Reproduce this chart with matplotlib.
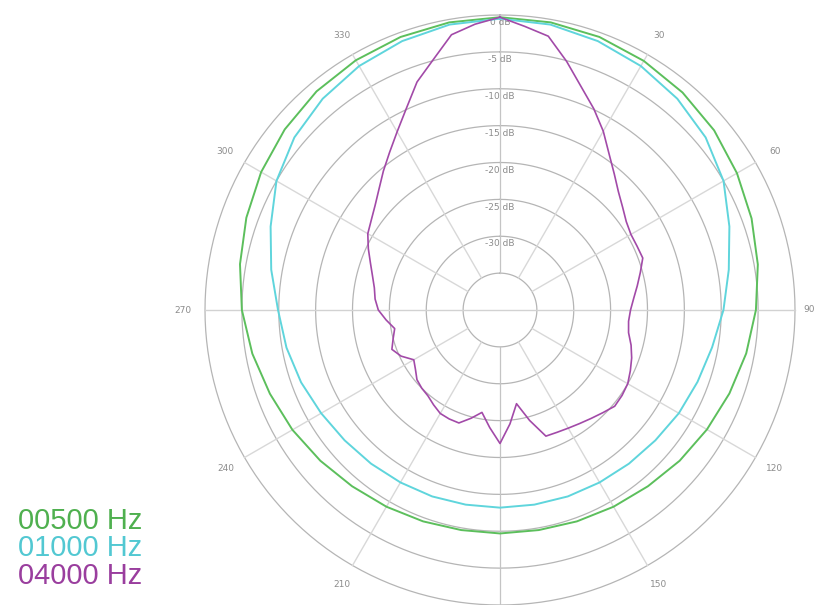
import numpy as np
import matplotlib
matplotlib.use("Agg")
import matplotlib.pyplot as plt

# measured levels in dB, 10 degree steps for 500/1000 Hz, 5 degree steps for 4000 Hz
angles_10 = list(range(0, 360, 10))
angles_5 = list(range(0, 360, 5))

db_500 = [-0.3, -0.4, -0.6, -1.0, -1.5, -2.1, -2.9, -3.7, -4.5, -5.3,
          -6.1, -6.9, -7.6, -8.2, -8.8, -9.2, -9.5, -9.7, -9.7,
          -9.7, -9.5, -9.2, -8.8, -8.2, -7.5, -6.8, -5.9, -5.0,
          -4.2, -3.4, -2.6, -1.9, -1.3, -0.9, -0.6, -0.4]

db_1000 = [-0.5, -0.7, -1.2, -1.8, -2.6, -3.6, -5.0, -6.9, -8.5, -9.7,
           -10.8, -11.5, -12.0, -12.5, -12.8, -13.0, -13.1, -13.2, -13.2,
           -13.2, -13.1, -13.0, -12.8, -12.5, -12.0, -11.3, -10.6, -9.9,
           -8.5, -6.9, -5.0, -3.6, -2.6, -1.8, -1.2, -0.7]

db_4000 = [-0.3, -1.4, -2.3, -5.1, -7.8, -9.9, -12.0, -14.2, -15.9, -17.3,
           -18.3, -19.1, -19.5, -19.5, -19.4, -20.3, -21.1, -21.8, -22.3, -22.5,
           -22.3, -21.6, -21.0, -20.5, -20.0, -19.8, -19.7, -20.3, -20.8, -21.2,
           -21.5, -21.7, -21.8, -24.5, -27.1, -24.5, -21.9, -24.0, -25.9, -24.8,
           -23.7, -23.7, -23.8, -24.3, -24.8, -25.0, -25.3, -26.0, -26.5, -25.2,
           -24.4, -25.0, -25.5, -24.5, -23.5, -23.0, -22.7, -22.1, -21.3, -20.3,
           -19.3, -18.7, -17.9, -16.8, -15.4, -13.9, -12.1, -9.9, -7.1, -4.9,
           -2.1, -1.1]

series_names = ["00500 Hz", "01000 Hz", "04000 Hz"]
series_colors = ["#5cbf5c", "#5fd5dc", "#a24aa8"]
text_colors = ["#4fb04f", "#52c8d2", "#9a3e9e"]

ring_levels = [0, -5, -10, -15, -20, -25, -30, -35]
ring_labels = ["0 dB", "-5 dB", "-10 dB", "-15 dB", "-20 dB", "-25 dB", "-30 dB"]
angle_ticks = list(range(0, 360, 30))
# 0 and 180 fall outside the picture, 90 is half cut by the right edge
shown_ticks = [30, 60, 90, 120, 150, 210, 240, 270, 300, 330]

fig = plt.figure(figsize=(8.17, 6.05), dpi=100)
ax = fig.add_axes([205 / 817, 0, 590 / 817, 590 / 605], projection="polar")
ax.set_theta_zero_location("N")
ax.set_theta_direction(-1)
ax.set_ylim(-40, 0)
ax.grid(False)
ax.set_xticks([])
ax.set_yticks([])
ax.spines["polar"].set_visible(False)
ax.patch.set_alpha(0)

full = np.linspace(0, 2 * np.pi, 361)
for lev in ring_levels:
    ax.plot(full, np.full_like(full, lev), color="#b5b5b5", lw=0.9, zorder=1, clip_on=False)

for a in angle_ticks:
    t = np.deg2rad(a)
    if a % 90 == 0:
        continue
    ax.plot([t, t], [-35, 0], color="#d8d8d8", lw=1.0, zorder=1, clip_on=False)
# main axes lines
ax.plot([np.pi / 2, np.pi / 2, 3 * np.pi / 2, 3 * np.pi / 2], [0, -40, -40, 0],
        color="#d2d2d2", lw=1.0, zorder=1, clip_on=False)
ax.plot([0, 0], [-35, 0], color="#c4c4c4", lw=0.9, zorder=1, clip_on=False)
ax.plot([np.pi, np.pi], [-35, 0], color="#c4c4c4", lw=0.9, zorder=1, clip_on=False)

for lev, lab in zip(ring_levels, ring_labels):
    ax.text(0, lev - 1.05, lab, ha="center", va="center", fontsize=6.5,
            color="#8c8c8c", zorder=2, clip_on=False)

for a in shown_ticks:
    r = 3.0 if a != 90 else 1.9
    ax.text(np.deg2rad(a), r, str(a), ha="center", va="center", fontsize=6.5,
            color="#8c8c8c", clip_on=False)

t10 = np.deg2rad(angles_10 + [360])
t5 = np.deg2rad(angles_5 + [360])
ax.plot(t10, db_500 + db_500[:1], color=series_colors[0], lw=1.4, zorder=3, clip_on=False)
ax.plot(t10, db_1000 + db_1000[:1], color=series_colors[1], lw=1.4, zorder=3, clip_on=False)
ax.plot(t5, db_4000 + db_4000[:1], color=series_colors[2], lw=1.2, zorder=4, clip_on=False)

legend_y = [521, 548, 576]
for name, col, y in zip(series_names, text_colors, legend_y):
    fig.text(18 / 817, 1 - y / 605, name, color=col, fontsize=21,
             family="Liberation Sans", ha="left", va="center")

fig.savefig("out.png", dpi=100)
